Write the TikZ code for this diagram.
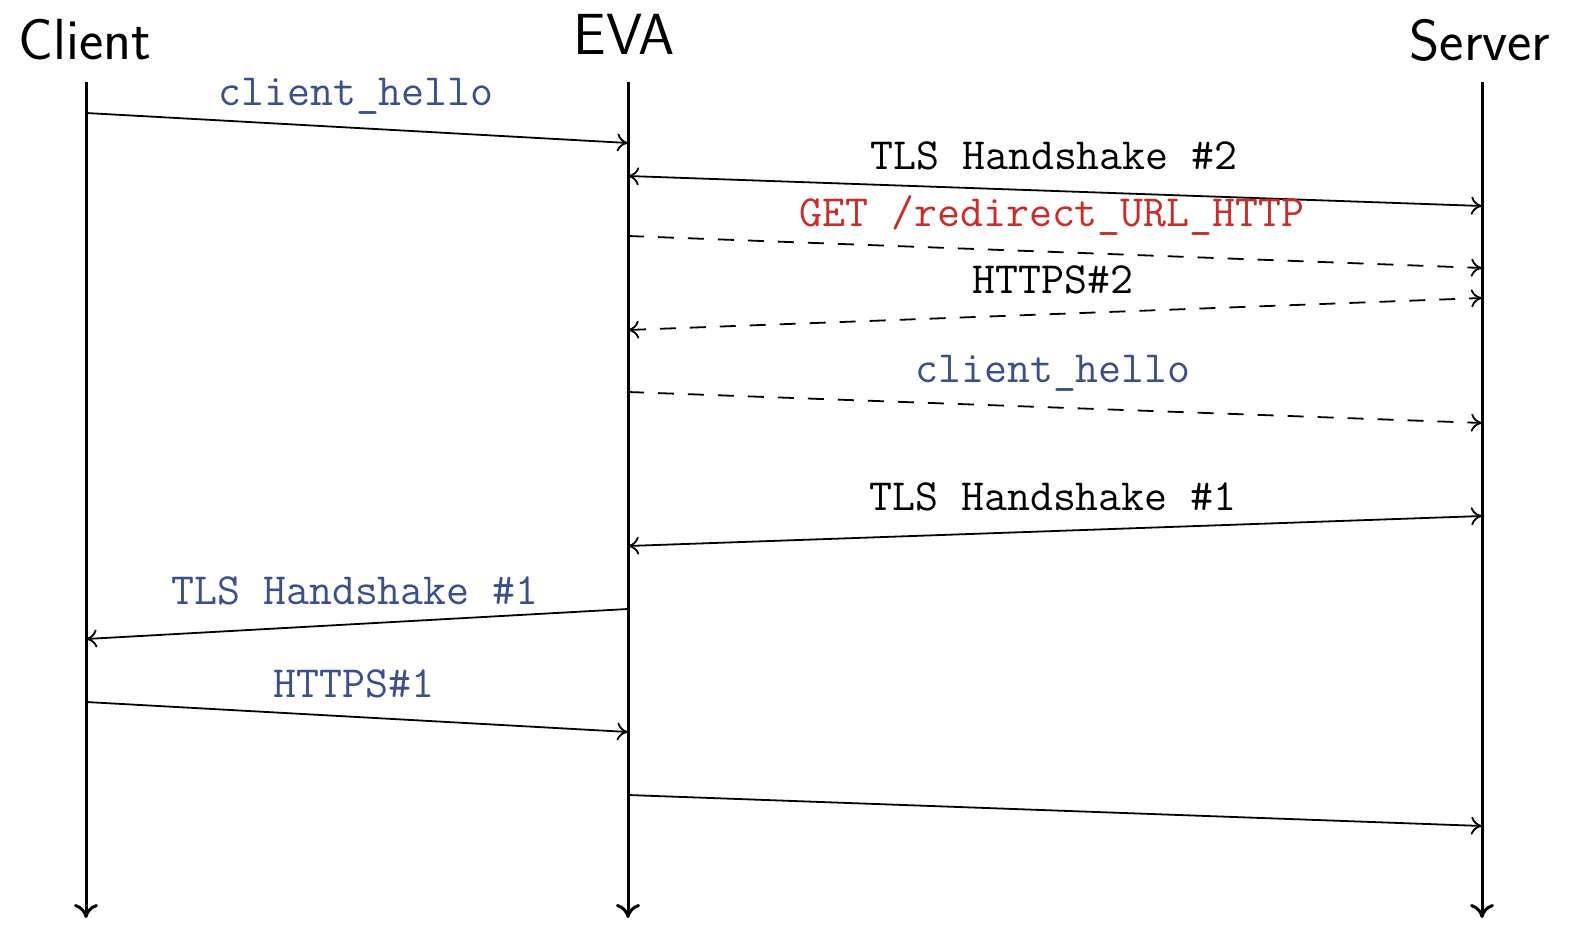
\documentclass[tikz,border=0pt]{standalone}
\usepackage{fontspec}
\usetikzlibrary{arrows.meta}
\definecolor{msgblue}{RGB}{58,80,140}
\definecolor{msgred}{RGB}{200,45,40}
\tikzset{
  lifeline/.style={line width=1.5pt,-{To[length=7pt,width=12pt]}},
  msg/.style={line width=0.9pt,-{To[length=5.5pt,width=9pt]}},
  twoway/.style={line width=0.9pt,{To[length=5.5pt,width=9pt]}-{To[length=5.5pt,width=9pt]}},
  later/.style={dash pattern=on 8pt off 7pt},
  actor/.style={font=\sffamily\fontsize{29}{34}\selectfont},
  lbl/.style={font=\ttfamily\fontsize{22.3}{27}\selectfont},
}

\begin{document}
\begin{tikzpicture}[x=0.5pt,y=-0.5pt]
\useasboundingbox (0,0) rectangle (1577,930);
\node[actor] (client) at (85,40) {Client};
\node[actor] (eva) at (624,34) {EVA};
\node[actor] (server) at (1480,40) {Server};
% lifelines
\coordinate (client-top) at (86,82);
\coordinate (client-end) at (86,918);
\coordinate (eva-top) at (628,82);
\coordinate (eva-end) at (628,918);
\coordinate (server-top) at (1482,82);
\coordinate (server-end) at (1482,918);
\draw[lifeline] (client-top) -- (client-end);
\draw[lifeline] (eva-top) -- (eva-end);
\draw[lifeline] (server-top) -- (server-end);
% message ends
\coordinate (hello-c) at (86,113);
\coordinate (hello-e) at (628,143);
\coordinate (tls2-e) at (628,176);
\coordinate (tls2-s) at (1482,206);
\coordinate (get-e) at (628,236);
\coordinate (get-s) at (1482,268);
\coordinate (https2-e) at (628,330);
\coordinate (https2-s) at (1482,298);
\coordinate (fwd-e) at (628,392);
\coordinate (fwd-s) at (1482,423);
\coordinate (tls1-e) at (628,546);
\coordinate (tls1-s) at (1482,516);
\coordinate (back-e) at (628,609);
\coordinate (back-c) at (86,639);
\coordinate (https1-c) at (86,702);
\coordinate (https1-e) at (628,732);
\coordinate (last-e) at (628,795);
\coordinate (last-s) at (1482,826);
% messages
\draw[msg] (hello-c) -- (hello-e);
\draw[twoway] (tls2-e) -- (tls2-s);
\draw[msg,later] (get-e) -- (get-s);
\draw[twoway,later] (https2-e) -- (https2-s);
\draw[msg,later] (fwd-e) -- (fwd-s);
\draw[twoway] (tls1-e) -- (tls1-s);
\draw[msg] (back-e) -- (back-c);
\draw[msg] (https1-c) -- (https1-e);
\draw[msg] (last-e) -- (last-s);
% labels
\node[lbl,msgblue] (hello-lbl) at (356,96) {client\_hello};
\node[lbl] (tls2-lbl) at (1054,156) {TLS Handshake \#2};
\node[lbl,msgred] (get-lbl) at (1052,215) {GET /redirect\_URL\_HTTP};
\node[lbl] (https2-lbl) at (1053,280) {HTTPS\#2};
\node[lbl,msgblue] (fwd-lbl) at (1053,373) {client\_hello};
\node[lbl] (tls1-lbl) at (1053,497) {TLS Handshake \#1};
\node[lbl,msgblue] (back-lbl) at (355,591) {TLS Handshake \#1};
\node[lbl,msgblue] (https1-lbl) at (354,684) {HTTPS\#1};
\end{tikzpicture}
\end{document}
